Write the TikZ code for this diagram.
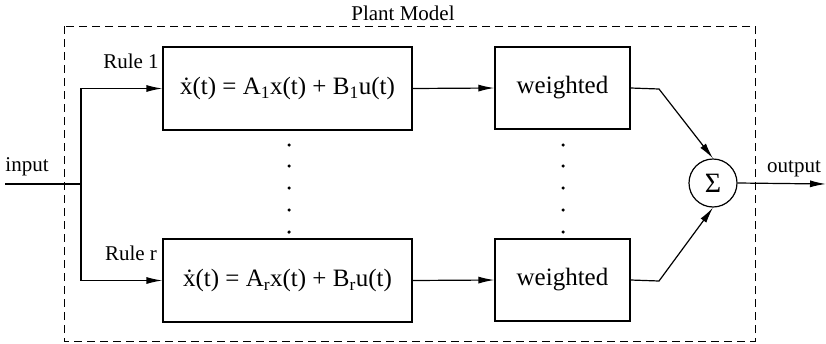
\documentclass[tikz,border=0pt]{standalone}
\usepackage{fontspec}
\setmainfont{Liberation Serif}
\usetikzlibrary{arrows.meta}
\begin{document}
\begin{tikzpicture}[x=1pt,y=-1pt,
  line width=1.2pt,
  arr/.style={-{Latex[length=16pt,width=7pt]}},
  eqbox/.style={draw,minimum width=249pt,minimum height=83pt,inner sep=0pt,font=\fontsize{25}{30}\selectfont},
  wbox/.style={draw,minimum width=135pt,minimum height=82pt,inner sep=0pt,font=\fontsize{25}{30}\selectfont},
  lbl/.style={inner sep=0pt,font=\fontsize{21}{25}\selectfont},
  dotm/.style={circle,fill,inner sep=0pt,minimum size=3.5pt}]
\useasboundingbox (0,0) rectangle (826,343);
\draw[dashed,dash pattern=on 8pt off 5pt,line width=1pt] (64,26) rectangle (755,341);
\node[lbl] (pm) at (403,13) {Plant Model};
\node[eqbox] (b1) at (287.5,88.5) {\.x(t) = A\textsubscript{1}x(t) + B\textsubscript{1}u(t)};
\node[eqbox] (br) at (287.5,280.5) {\.x(t) = A\textsubscript{r}x(t) + B\textsubscript{r}u(t)};
\node[wbox] (w1) at (562.5,88) {weighted};
\node[wbox] (wr) at (562.5,280) {weighted};
\node[draw,circle,minimum size=48pt,inner sep=0pt,font=\fontsize{28}{30}\selectfont] (sum) at (713,183) {Σ};
\node[lbl] (r1) at (131,61) {Rule 1};
\node[lbl] (rr) at (131,253) {Rule r};
\node[lbl] (inl) at (27,167) {input};
\node[lbl] (outl) at (794,169) {output};
\foreach \i/\yy in {1/145,2/166,3/188,4/210,5/232}{
  \node[dotm] (da\i) at (289,\yy) {};
  \node[dotm] (db\i) at (563,\yy) {};
}
\coordinate (in) at (5,184);
\coordinate (j) at (81,184);
\coordinate (out) at (826,184);
\coordinate (k1) at (659,89);
\coordinate (kr) at (659,281);
\draw (in) -- (j);
\draw[arr] (j) |- (b1.west);
\draw[arr] (j) |- (br.west);
\draw[arr] (b1.east) -- (w1.west);
\draw[arr] (br.east) -- (wr.west);
\draw[arr] (w1.east) -- (k1) -- (sum.north);
\draw[arr] (wr.east) -- (kr) -- (sum.south);
\draw[arr] (sum.east) -- (out);
\end{tikzpicture}
\end{document}
